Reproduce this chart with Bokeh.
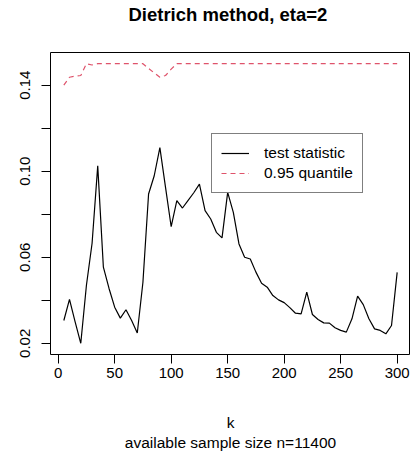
import math
from bokeh.plotting import figure
from bokeh.models import Range1d, FixedTicker, Title, PrintfTickFormatter
from bokeh.embed import file_html
from bokeh.resources import INLINE

# ---- data ----
k = list(range(5, 301, 5))
test_statistic = [
    0.0306, 0.0404, 0.0300, 0.0200, 0.0470, 0.0665, 0.1025, 0.0554, 0.0455, 0.0368,
    0.0317, 0.0356, 0.0306, 0.0248, 0.0484, 0.0894, 0.0979, 0.1110, 0.0925, 0.0742,
    0.0863, 0.0829, 0.0865, 0.0900, 0.0940, 0.0817, 0.0778, 0.0716, 0.0690, 0.0902,
    0.0809, 0.0662, 0.0600, 0.0592, 0.0531, 0.0479, 0.0461, 0.0422, 0.0402, 0.0389,
    0.0366, 0.0340, 0.0337, 0.0438, 0.0334, 0.0311, 0.0295, 0.0294, 0.0272, 0.0260,
    0.0252, 0.0314, 0.0419, 0.0380, 0.0314, 0.0267, 0.0260, 0.0244, 0.0283, 0.0530,
]
quantile_95 = [
    0.1400, 0.1437, 0.1442, 0.1445, 0.1500, 0.1494, 0.1500, 0.1500, 0.1500, 0.1500,
    0.1500, 0.1500, 0.1500, 0.1500, 0.1500, 0.1478, 0.1457, 0.1437, 0.1445, 0.1475,
    0.1500, 0.1500, 0.1500, 0.1500, 0.1500, 0.1500, 0.1500, 0.1500, 0.1500, 0.1500,
    0.1500, 0.1500, 0.1500, 0.1500, 0.1500, 0.1500, 0.1500, 0.1500, 0.1500, 0.1500,
    0.1500, 0.1500, 0.1500, 0.1500, 0.1500, 0.1500, 0.1500, 0.1500, 0.1500, 0.1500,
    0.1500, 0.1500, 0.1500, 0.1500, 0.1500, 0.1500, 0.1500, 0.1500, 0.1500, 0.1500,
]
x_ticks = [0, 50, 100, 150, 200, 250, 300]
y_major_ticks = [0.02, 0.06, 0.10, 0.14]
y_minor_ticks = [0.04, 0.08, 0.12]
title_text = "Dietrich method,  eta=2"
x_label = "k"
sub_label = "available sample size n=11400"
legend_labels = ["test statistic", "0.95 quantile"]

# R-style 4% range extension
xmin, xmax = min(k), max(k)
allv = test_statistic + quantile_95
ymin, ymax = min(allv), max(allv)
xr = Range1d(xmin - 0.04 * (xmax - xmin), xmax + 0.04 * (xmax - xmin))
yr = Range1d(ymin - 0.04 * (ymax - ymin), ymax + 0.04 * (ymax - ymin))

FONT = "Liberation Sans"

p = figure(width=410, height=456, x_range=xr, y_range=yr,
           output_backend="svg", toolbar_location=None,
           min_border_left=50, min_border_right=0,
           min_border_top=52, min_border_bottom=102)

p.background_fill_color = "white"
p.border_fill_color = "white"
p.outline_line_color = "black"
p.outline_line_width = 1
p.xgrid.visible = False
p.ygrid.visible = False

# title (outermost above panel)
p.title.text = title_text
p.title.align = "center"
p.title.vertical_align = "bottom"
p.title.text_font = FONT
p.title.text_font_size = "18.5px"
p.title.text_font_style = "bold"
p.title.text_color = "black"
p.title.standoff = 0

# spacer between title and frame
spacer = Title(text=" ", text_font_size="1px", standoff=25)
p.add_layout(spacer, "above")

# x axis
xa = p.xaxis[0]
xa.ticker = FixedTicker(ticks=x_ticks)
xa.axis_line_color = None
xa.major_tick_out = 9
xa.major_tick_in = 0
xa.minor_tick_out = 0
xa.minor_tick_in = 0
xa.major_tick_line_color = "black"
xa.major_label_text_font = FONT
xa.major_label_text_font_size = "15px"
xa.major_label_text_color = "black"
xa.major_label_standoff = 4
xa.axis_label = x_label
xa.axis_label_text_font = FONT
xa.axis_label_text_font_size = "15.5px"
xa.axis_label_text_font_style = "normal"
xa.axis_label_text_color = "black"
xa.axis_label_standoff = 33

# y axis
ya = p.yaxis[0]
ya.ticker = FixedTicker(ticks=y_major_ticks, minor_ticks=y_minor_ticks)
ya.formatter = PrintfTickFormatter(format="%.2f")
ya.axis_line_color = None
ya.major_tick_out = 9
ya.major_tick_in = 0
ya.minor_tick_out = 9
ya.minor_tick_in = 0
ya.major_tick_line_color = "black"
ya.minor_tick_line_color = "black"
ya.major_label_text_font = FONT
ya.major_label_text_font_size = "15px"
ya.major_label_text_color = "black"
ya.major_label_orientation = "vertical"
ya.major_label_standoff = 11

# subtitle below
sub = Title(text=sub_label, align="center", text_font=FONT,
            text_font_size="15.5px", text_font_style="normal",
            text_color="black", standoff=-3)
p.add_layout(sub, "below")

# lines
p.line(k, test_statistic, line_color="black", line_width=1.2,
       legend_label=legend_labels[0])
p.line(k, quantile_95, line_color="#DF536B", line_width=1.2,
       line_dash="5 4", legend_label=legend_labels[1])

lg = p.legend[0]
lg.location = (161, 161)
lg.margin = 0
lg.padding = 9
lg.spacing = 0
lg.label_height = 20
lg.glyph_height = 20
lg.glyph_width = 28
lg.label_standoff = 15
lg.label_text_font = FONT
lg.label_text_font_size = "15.5px"
lg.label_text_color = "black"
lg.border_line_color = "black"
lg.border_line_width = 1
lg.background_fill_color = "white"
lg.background_fill_alpha = 1.0

open("out.html", "w").write(file_html(p, INLINE))
